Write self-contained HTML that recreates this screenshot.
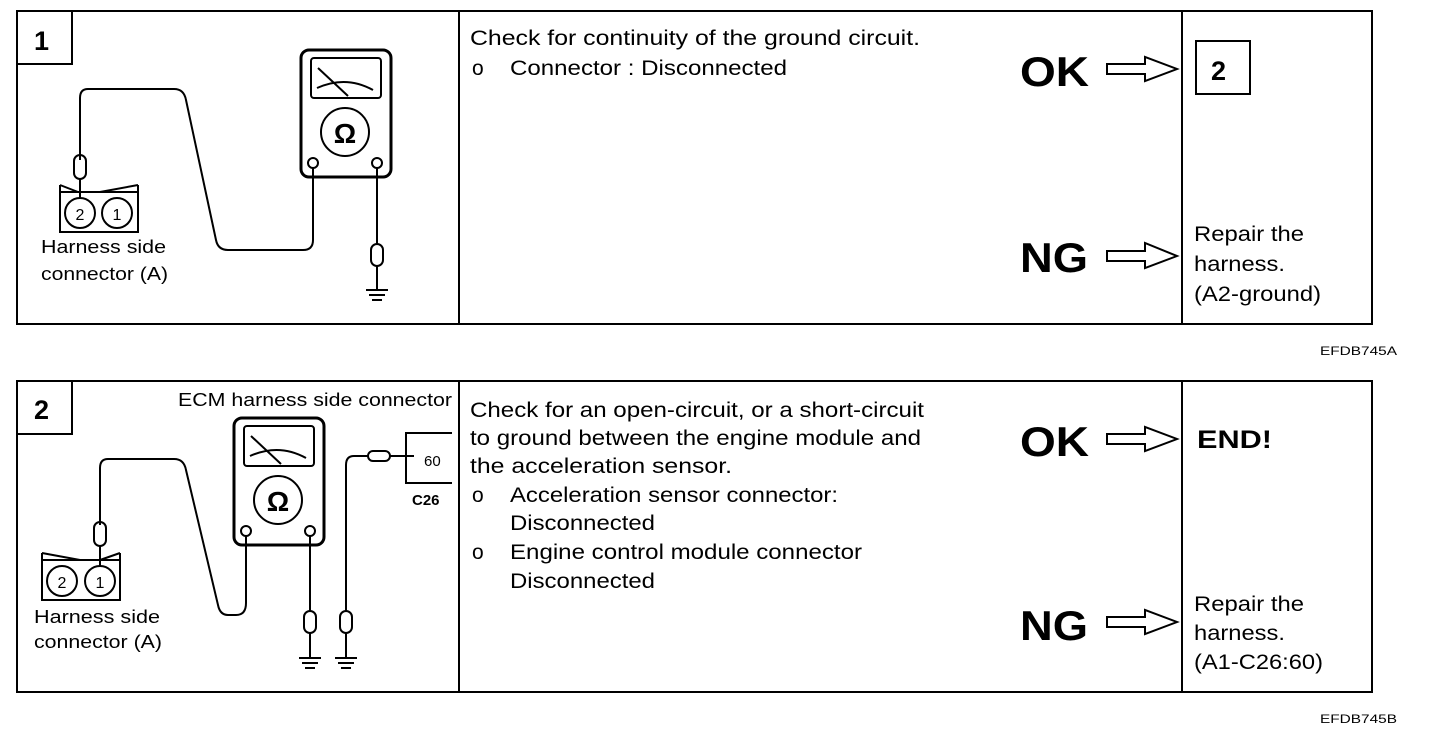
<!DOCTYPE html>
<html><head><meta charset="utf-8"><style>
html,body{margin:0;padding:0;background:#fff}
svg{display:block}
text{font-family:"Liberation Sans",Arial,sans-serif;fill:#000}
</style></head><body>
<svg width="1440" height="744" viewBox="0 0 1440 744" xmlns="http://www.w3.org/2000/svg">
<g fill="none" stroke="#000" stroke-width="2">
<rect x="17" y="11" width="1355" height="313"/>
<line x1="459" y1="11" x2="459" y2="324"/>
<line x1="1182" y1="11" x2="1182" y2="324"/>
<path d="M17 64 H72 V11"/>
<rect x="1196" y="41" width="54" height="53"/>
<rect x="17" y="381" width="1355" height="311"/>
<line x1="459" y1="381" x2="459" y2="692"/>
<line x1="1182" y1="381" x2="1182" y2="692"/>
<path d="M17 434 H72 V381"/>
</g>
<text x="34" y="50" font-size="27" font-weight="bold">1</text>
<text x="34" y="419" font-size="27" font-weight="bold">2</text>
<text x="1211" y="80" font-size="27" font-weight="bold">2</text>

<g fill="none" stroke="#000" stroke-width="2">
<rect x="301" y="50" width="90" height="127" rx="8" stroke-width="3"/>
<rect x="311" y="58" width="70" height="40" rx="3"/>
<path d="M317 88 Q346 75 373 90"/>
<line x1="318" y1="68" x2="348" y2="96"/>
<circle cx="345" cy="132" r="24"/>
<circle cx="313" cy="163" r="5"/>
<circle cx="377" cy="163" r="5"/>
<path d="M313 168 V240 Q313 250 303 250 H228 Q218 250 216 240 L186 100 Q184 89 174 89 H88 Q80 89 80 98 V160"/>
<line x1="377" y1="168" x2="377" y2="245"/>
<rect x="371" y="244" width="12" height="22" rx="6"/>
<line x1="377" y1="266" x2="377" y2="290"/>
<line x1="366" y1="290" x2="388" y2="290"/>
<line x1="369" y1="295" x2="385" y2="295"/>
<line x1="372" y1="300" x2="382" y2="300"/>
<rect x="74" y="155" width="12" height="24" rx="6"/>
<line x1="80" y1="179" x2="80" y2="200"/>
<rect x="60" y="192" width="78" height="40"/>
<path d="M60 185 L78 192 M138 185 L100 192 M60 185 V192 M138 185 V192"/>
<circle cx="80" cy="213" r="15" fill="#fff"/>
<circle cx="117" cy="213" r="15" fill="#fff"/>
</g>
<text x="345" y="143" font-size="28" font-weight="bold" text-anchor="middle" font-family="Liberation Serif">Ω</text>
<text x="80" y="220" font-size="16" text-anchor="middle">2</text>
<text x="117" y="220" font-size="16" text-anchor="middle">1</text>
<text x="41" y="253" font-size="18" textLength="125" lengthAdjust="spacingAndGlyphs">Harness side</text>
<text x="41" y="280" font-size="18" textLength="127" lengthAdjust="spacingAndGlyphs">connector (A)</text>

<g fill="none" stroke="#000" stroke-width="2">
<rect x="234" y="418" width="90" height="127" rx="8" stroke-width="3"/>
<rect x="244" y="426" width="70" height="40" rx="3"/>
<path d="M250 456 Q279 443 306 458"/>
<line x1="251" y1="436" x2="281" y2="464"/>
<circle cx="278" cy="500" r="24"/>
<circle cx="246" cy="531" r="5"/>
<circle cx="310" cy="531" r="5"/>
<path d="M246 536 V603 Q246 615 236 615 H228 Q220 615 218 605 L186 470 Q184 459 174 459 H108 Q100 459 100 468 V525"/>
<line x1="310" y1="536" x2="310" y2="612"/>
<rect x="304" y="611" width="12" height="22" rx="6"/>
<line x1="310" y1="633" x2="310" y2="658"/>
<line x1="299" y1="658" x2="321" y2="658"/>
<line x1="302" y1="663" x2="318" y2="663"/>
<line x1="305" y1="668" x2="315" y2="668"/>
<path d="M346 612 V465 Q346 456 354 456 H368"/>
<rect x="368" y="451" width="22" height="10" rx="5"/>
<path d="M390 456 H414"/>
<rect x="340" y="611" width="12" height="22" rx="6"/>
<line x1="346" y1="633" x2="346" y2="658"/>
<line x1="335" y1="658" x2="357" y2="658"/>
<line x1="338" y1="663" x2="354" y2="663"/>
<line x1="341" y1="668" x2="351" y2="668"/>
<path d="M452 433 H406 V483 H452"/>
<rect x="94" y="522" width="12" height="24" rx="6"/>
<line x1="100" y1="546" x2="100" y2="568"/>
<rect x="42" y="560" width="78" height="40"/>
<path d="M42 553 L80 560 M120 553 L100 560 M42 553 V560 M120 553 V560"/>
<circle cx="62" cy="581" r="15" fill="#fff"/>
<circle cx="100" cy="581" r="15" fill="#fff"/>
</g>
<text x="278" y="511" font-size="28" font-weight="bold" text-anchor="middle" font-family="Liberation Serif">Ω</text>
<text x="62" y="588" font-size="16" text-anchor="middle">2</text>
<text x="100" y="588" font-size="16" text-anchor="middle">1</text>
<text x="424" y="466" font-size="15">60</text>
<text x="412" y="505" font-size="15" font-weight="bold">C26</text>
<text x="178" y="406" font-size="18" textLength="274" lengthAdjust="spacingAndGlyphs">ECM harness side connector</text>
<text x="34" y="623" font-size="18" textLength="126" lengthAdjust="spacingAndGlyphs">Harness side</text>
<text x="34" y="648" font-size="18" textLength="128" lengthAdjust="spacingAndGlyphs">connector (A)</text>

<g font-size="21">
<text x="470" y="45" textLength="450" lengthAdjust="spacingAndGlyphs">Check for continuity of the ground circuit.</text>
<text x="472" y="75">o</text><text x="510" y="75" textLength="277" lengthAdjust="spacingAndGlyphs">Connector : Disconnected</text>
<text x="470" y="417" textLength="454" lengthAdjust="spacingAndGlyphs">Check for an open-circuit, or a short-circuit</text>
<text x="470" y="445" textLength="451" lengthAdjust="spacingAndGlyphs">to ground between the engine module and</text>
<text x="470" y="473" textLength="262" lengthAdjust="spacingAndGlyphs">the acceleration sensor.</text>
<text x="472" y="502">o</text><text x="510" y="502" textLength="328" lengthAdjust="spacingAndGlyphs">Acceleration sensor connector:</text>
<text x="510" y="530" textLength="145" lengthAdjust="spacingAndGlyphs">Disconnected</text>
<text x="472" y="559">o</text><text x="510" y="559" textLength="352" lengthAdjust="spacingAndGlyphs">Engine control module connector</text>
<text x="510" y="588" textLength="145" lengthAdjust="spacingAndGlyphs">Disconnected</text>
</g>

<g font-size="42" font-weight="bold">
<text x="1020" y="86" textLength="69" lengthAdjust="spacingAndGlyphs">OK</text>
<text x="1020" y="272" textLength="68" lengthAdjust="spacingAndGlyphs">NG</text>
<text x="1020" y="456" textLength="69" lengthAdjust="spacingAndGlyphs">OK</text>
<text x="1020" y="640" textLength="68" lengthAdjust="spacingAndGlyphs">NG</text>
</g>
<g fill="#fff" stroke="#000" stroke-width="2">
<path d="M1107 64 H1145 V57 L1177 69 L1145 81 V74 H1107 Z"/>
<path d="M1107 251 H1145 V243 L1177 256 L1145 268 V261 H1107 Z"/>
<path d="M1107 434 H1145 V427 L1177 439 L1145 451 V444 H1107 Z"/>
<path d="M1107 617 H1145 V610 L1177 622 L1145 634 V627 H1107 Z"/>
</g>
<g font-size="21">
<text x="1194" y="241" textLength="110" lengthAdjust="spacingAndGlyphs">Repair the</text>
<text x="1194" y="271" textLength="91" lengthAdjust="spacingAndGlyphs">harness.</text>
<text x="1194" y="301" textLength="127" lengthAdjust="spacingAndGlyphs">(A2-ground)</text>
<text x="1194" y="611" textLength="110" lengthAdjust="spacingAndGlyphs">Repair the</text>
<text x="1194" y="640" textLength="91" lengthAdjust="spacingAndGlyphs">harness.</text>
<text x="1194" y="669" textLength="129" lengthAdjust="spacingAndGlyphs">(A1-C26:60)</text>
</g>
<text x="1197" y="448" font-size="25" font-weight="bold" textLength="75" lengthAdjust="spacingAndGlyphs">END!</text>
<text x="1320" y="355" font-size="12" textLength="77" lengthAdjust="spacingAndGlyphs">EFDB745A</text>
<text x="1320" y="723" font-size="12" textLength="77" lengthAdjust="spacingAndGlyphs">EFDB745B</text>
</svg>
</body></html>
